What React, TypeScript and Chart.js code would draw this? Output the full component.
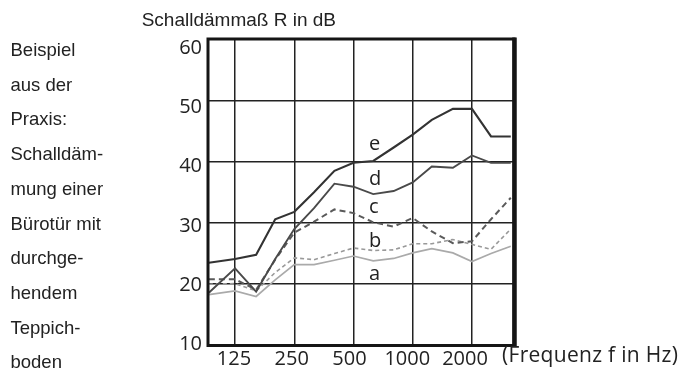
import { useEffect, useRef } from "react";
import { Chart, registerables } from "chart.js";

Chart.register(...registerables);

// Third-octave band frequencies (Hz); the curves start at the left frame edge
const FREQUENCIES = [92, 125, 160, 200, 250, 315, 400, 500, 630, 800, 1000, 1250, 1600, 2000, 2500, 3150];
const X_TICKS = [125, 250, 500, 1000, 2000];
const Y_TICKS = [10, 20, 30, 40, 50, 60];

// Schalldämmaß R in dB per curve
const SERIES_E = [23.5, 24.1, 24.8, 30.6, 31.8, 35.0, 38.5, 39.8, 40.1, 42.3, 44.4, 46.8, 48.6, 48.6, 44.1, 44.1];
const SERIES_D = [18.6, 22.6, 18.8, 24.1, 29.0, 32.4, 36.4, 35.9, 34.7, 35.2, 36.6, 39.2, 39.0, 41.0, 39.8, 39.8];
const SERIES_C = [20.8, 20.8, 19.1, 24.0, 28.4, 30.2, 32.2, 31.6, 30.1, 29.4, 30.8, 28.6, 26.7, 27.0, 30.6, 34.1];
const SERIES_B = [20.0, 20.1, 18.9, 21.9, 24.3, 24.0, 25.0, 25.9, 25.5, 25.6, 26.6, 26.6, 27.3, 26.5, 25.7, 29.0];
const SERIES_A = [18.3, 18.9, 18.0, 20.7, 23.2, 23.2, 23.9, 24.6, 23.8, 24.2, 25.1, 25.8, 25.1, 23.7, 25.0, 26.2];

const CURVE_NAMES = ["e", "d", "c", "b", "a"];
// label anchor (frequency, dB at baseline) for the curve letters
const LABEL_FREQ = 600;
const LABEL_DB = [41.9, 36.2, 31.6, 26.1, 20.7];

const SIDE_TEXT = [
  "Beispiel",
  "aus der",
  "Praxis:",
  "Schalldäm-",
  "mung einer",
  "Bürotür mit",
  "durchge-",
  "hendem",
  "Teppich-",
  "boden",
];
const TITLE = "Schalldämmaß R in dB";
const X_TITLE = "(Frequenz f in Hz)";

const NUM_FONT = { family: "'Open Sans'", size: 20 };

export default function App() {
  const canvasRef = useRef<HTMLCanvasElement | null>(null);

  useEffect(() => {
    const canvas = canvasRef.current;
    if (!canvas) return;

    const mk = (vals: number[]) => FREQUENCIES.map((f, i) => ({ x: f, y: vals[i] }));

    const framePlugin = {
      id: "frameAndLetters",
      afterDatasetsDraw(chart: any) {
        const { ctx, chartArea } = chart;
        const sx = chart.scales.x;
        const sy = chart.scales.y;
        ctx.save();
        ctx.strokeStyle = "#151515";
        ctx.lineWidth = 3;
        ctx.strokeRect(chartArea.left, chartArea.top, chartArea.right - chartArea.left, chartArea.bottom - chartArea.top);
        // heavier right edge
        ctx.lineWidth = 4.5;
        ctx.beginPath();
        ctx.moveTo(chartArea.right + 0.5, chartArea.top - 1.5);
        ctx.lineTo(chartArea.right + 0.5, chartArea.bottom + 1.5);
        ctx.stroke();
        ctx.fillStyle = "#222";
        ctx.font = "20px 'Open Sans'";
        ctx.textAlign = "left";
        ctx.textBaseline = "alphabetic";
        CURVE_NAMES.forEach((n, i) => {
          ctx.fillText(n, sx.getPixelForValue(LABEL_FREQ), sy.getPixelForValue(LABEL_DB[i]));
        });
        ctx.restore();
      },
    };

    const chart = new Chart(canvas, {
      type: "line",
      data: {
        datasets: [
          { label: "e", data: mk(SERIES_E), borderColor: "#333333", borderWidth: 2.1, pointRadius: 0, fill: false, tension: 0 },
          { label: "d", data: mk(SERIES_D), borderColor: "#4a4a4a", borderWidth: 1.9, pointRadius: 0, fill: false, tension: 0 },
          { label: "c", data: mk(SERIES_C), borderColor: "#5a5a5a", borderWidth: 2, borderDash: [6, 4], pointRadius: 0, fill: false, tension: 0 },
          { label: "b", data: mk(SERIES_B), borderColor: "#999999", borderWidth: 1.6, borderDash: [4, 3], pointRadius: 0, fill: false, tension: 0 },
          { label: "a", data: mk(SERIES_A), borderColor: "#aaaaaa", borderWidth: 1.7, pointRadius: 0, fill: false, tension: 0 },
        ],
      },
      options: {
        responsive: false,
        animation: false,
        devicePixelRatio: 1,
        layout: { padding: { top: 39, right: 165, bottom: 0, left: 0 } },
        plugins: { legend: { display: false }, tooltip: { enabled: false } },
        scales: {
          x: {
            type: "logarithmic",
            position: "bottom",
            min: 91.1,
            max: 3271,
            afterBuildTicks: (s: any) => {
              s.ticks = X_TICKS.map((v) => ({ value: v }));
            },
            afterFit: (s: any) => {
              s.height = 0;
            },
            grid: { color: "#222", lineWidth: 1.5, drawTicks: false },
            border: { display: false },
            ticks: { display: false },
          },
          xLabels: {
            type: "logarithmic",
            position: "bottom",
            min: 91.5,
            max: 3601,
            afterBuildTicks: (s: any) => {
              s.ticks = X_TICKS.map((v) => ({ value: v }));
            },
            afterFit: (s: any) => {
              s.height = 376 - 345.5;
            },
            grid: { display: false, drawTicks: false },
            border: { display: false },
            ticks: {
              font: NUM_FONT,
              color: "#222",
              padding: 2,
              maxRotation: 0,
              autoSkip: false,
              callback: (v: any) => String(v),
            },
          },
          y: {
            type: "linear",
            position: "left",
            min: 10,
            max: 60,
            afterBuildTicks: (s: any) => {
              s.ticks = Y_TICKS.map((v) => ({ value: v }));
            },
            afterFit: (s: any) => {
              s.width = 0;
            },
            grid: { color: "#222", lineWidth: 1.5, drawTicks: false },
            border: { display: false },
            ticks: { display: false },
          },
          yLabels: {
            type: "linear",
            position: "left",
            min: 9.83,
            max: 61.52,
            afterBuildTicks: (s: any) => {
              s.ticks = Y_TICKS.map((v) => ({ value: v }));
            },
            afterFit: (s: any) => {
              s.width = 208;
            },
            grid: { display: false, drawTicks: false },
            border: { display: false },
            ticks: { font: NUM_FONT, color: "#222", padding: 6, callback: (v: any) => String(v) },
          },
        },
      },
      plugins: [framePlugin],
    } as any);

    return () => chart.destroy();
  }, []);

  return (
    <div style={{ position: "fixed", left: 0, top: 0, width: 679, height: 376, background: "#fff", overflow: "hidden" }}>
      <canvas ref={canvasRef} width={679} height={376} style={{ position: "absolute", left: 0, top: 0, width: 679, height: 376 }} />
      <div
        style={{
          position: "absolute",
          left: 141.7,
          top: 9.9,
          font: "19px 'Liberation Sans'",
          lineHeight: "19px",
          color: "#222",
          whiteSpace: "nowrap",
        }}
      >
        {TITLE}
      </div>
      {SIDE_TEXT.map((t, i) => (
        <div
          key={i}
          style={{
            position: "absolute",
            left: 10.5,
            top: 41 + 34.7 * i,
            font: "18.5px 'Liberation Sans'",
            lineHeight: "18.5px",
            color: "#222",
            whiteSpace: "nowrap",
          }}
        >
          {t}
        </div>
      ))}
      <div
        style={{
          position: "absolute",
          left: 502,
          top: 344.4,
          font: "21px 'Open Sans'",
          lineHeight: "21px",
          letterSpacing: "0.3px",
          color: "#222",
          whiteSpace: "nowrap",
        }}
      >
        {X_TITLE}
      </div>
    </div>
  );
}
